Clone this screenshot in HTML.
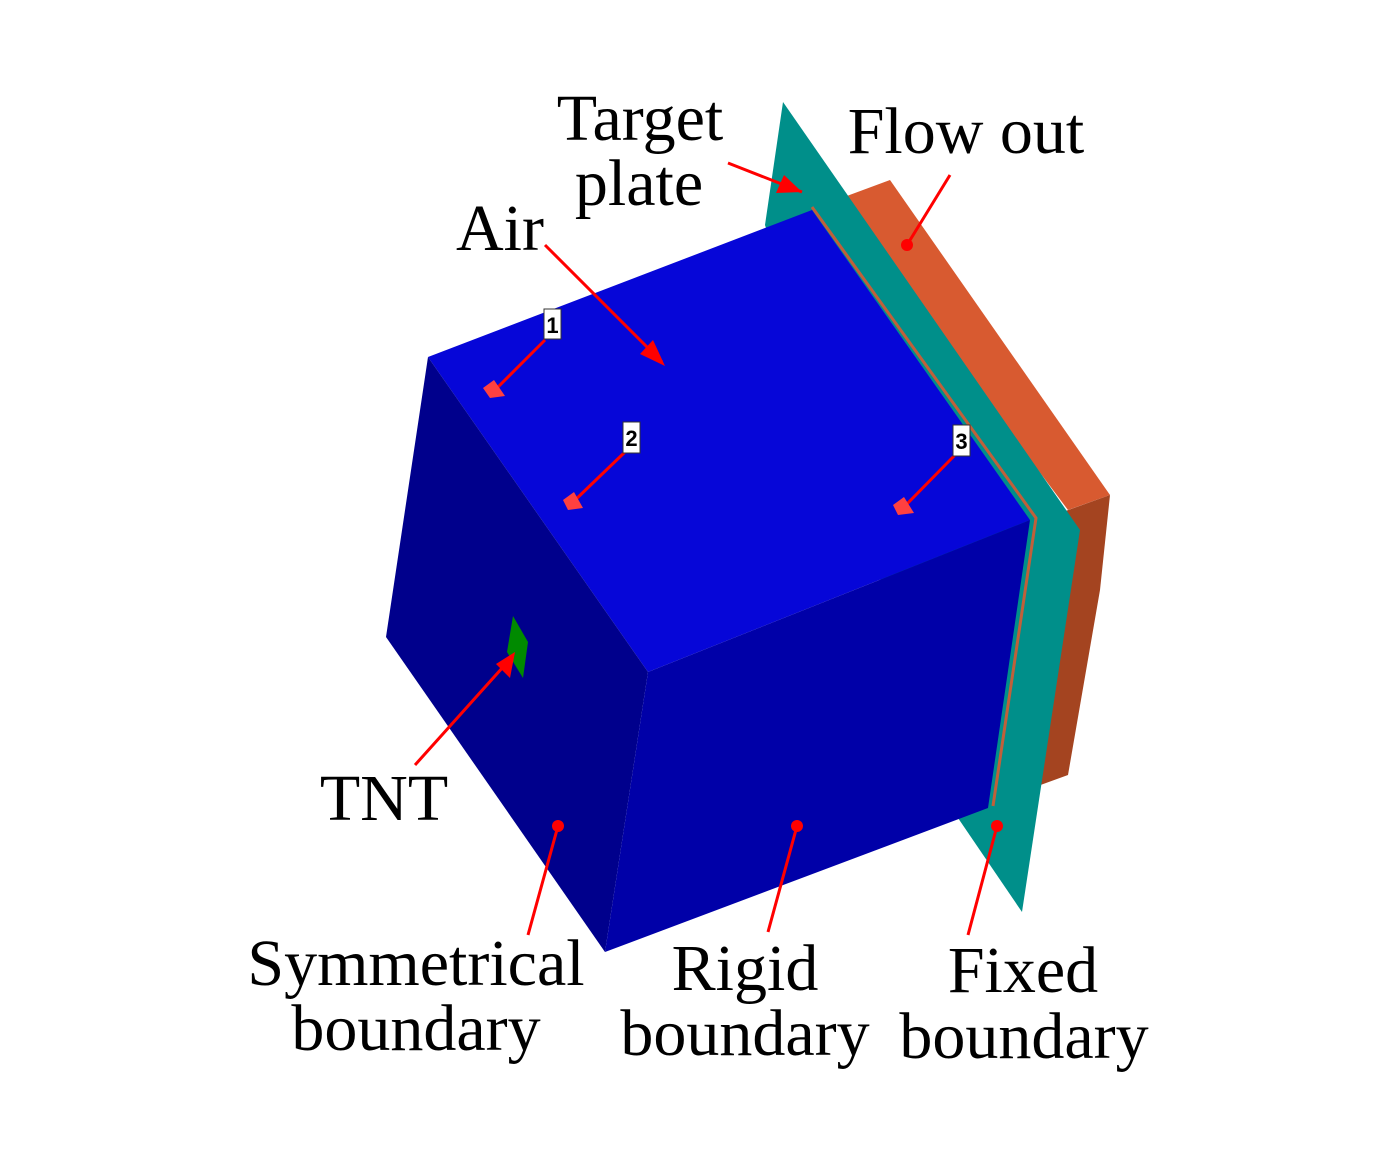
<!DOCTYPE html>
<html><head><meta charset="utf-8"><style>
html,body{margin:0;padding:0;background:#fff;}
svg{display:block;}
text{font-family:"Liberation Serif",serif;font-size:66px;fill:#000;}
.n{font-family:"Liberation Sans",sans-serif;font-size:22px;font-weight:bold;}
</style></head><body>
<svg width="1398" height="1169" viewBox="0 0 1398 1169" xmlns="http://www.w3.org/2000/svg">
<!-- orange flow out box -->
<polygon points="836,200 890,180 1110,495 1068,510" fill="#d85a30"/>
<polygon points="1060,513 1110,495 1100,590 1068,775 1035,787" fill="#a44420"/>
<!-- teal plate -->
<polygon points="783,102 1080,530 1022,912 958,818 765,225" fill="#008f8a"/>
<polyline points="812,207 1036,518 993,806" fill="none" stroke="#c0603a" stroke-width="3"/>
<!-- cube -->
<polygon points="428,357 812,210 1030,520 648,672" fill="#0606d8"/>
<polygon points="428,357 648,672 605,952 386,637" fill="#00008c"/>
<polygon points="648,672 1030,520 988,808 605,952" fill="#0000a8"/>
<!-- TNT -->
<polygon points="513,616 528,642 523,678 507,652" fill="#008a00"/>
<!-- arrows -->
<g stroke="#f00" stroke-width="3" fill="none">
<line x1="728" y1="163" x2="802" y2="192"/>
<line x1="545" y1="245" x2="662" y2="362"/>
<line x1="415" y1="765" x2="512" y2="657"/>
<line x1="950" y1="175" x2="907" y2="245"/>
<line x1="528" y1="935" x2="558" y2="826"/>
<line x1="768" y1="932" x2="797" y2="826"/>
<line x1="968" y1="935" x2="997" y2="826"/>
<line x1="545" y1="340" x2="495" y2="390"/>
<line x1="625" y1="452" x2="572" y2="503"/>
<line x1="955" y1="455" x2="903" y2="508"/>
</g>
<g fill="#f00">
<polygon points="802,192 776,193 784,175"/>
<polygon points="665,366 640,354 653,340"/>
<polygon points="515,652 510,678 496,664"/>
<circle cx="907" cy="245" r="6"/>
<circle cx="558" cy="826" r="6"/>
<circle cx="797" cy="826" r="6"/>
<circle cx="997" cy="826" r="6"/>
<polygon points="483,388 494,380 505,396 490,398" fill="#ff4040"/>
<polygon points="563,500 574,492 583,508 568,510" fill="#ff4040"/>
<polygon points="893,505 904,497 914,513 898,515" fill="#ff4040"/>
</g>
<!-- numbered boxes -->
<g>
<rect x="544" y="309" width="17" height="30" fill="#fff" stroke="#333"/>
<text class="n" x="552.5" y="333" text-anchor="middle">1</text>
<rect x="623" y="422" width="17" height="31" fill="#fff" stroke="#333"/>
<text class="n" x="631.5" y="446" text-anchor="middle">2</text>
<rect x="953" y="425" width="17" height="31" fill="#fff" stroke="#333"/>
<text class="n" x="961.5" y="449" text-anchor="middle">3</text>
</g>
<!-- labels -->
<text x="640" y="140" text-anchor="middle">Target</text>
<text x="639" y="205" text-anchor="middle">plate</text>
<text x="966" y="153" text-anchor="middle">Flow out</text>
<text x="500" y="250" text-anchor="middle">Air</text>
<text x="384" y="820" text-anchor="middle">TNT</text>
<text x="416" y="985" text-anchor="middle">Symmetrical</text>
<text x="416" y="1050" text-anchor="middle">boundary</text>
<text x="745" y="990" text-anchor="middle">Rigid</text>
<text x="745" y="1055" text-anchor="middle">boundary</text>
<text x="1023" y="992" text-anchor="middle">Fixed</text>
<text x="1024" y="1058" text-anchor="middle">boundary</text>
</svg>
</body></html>
